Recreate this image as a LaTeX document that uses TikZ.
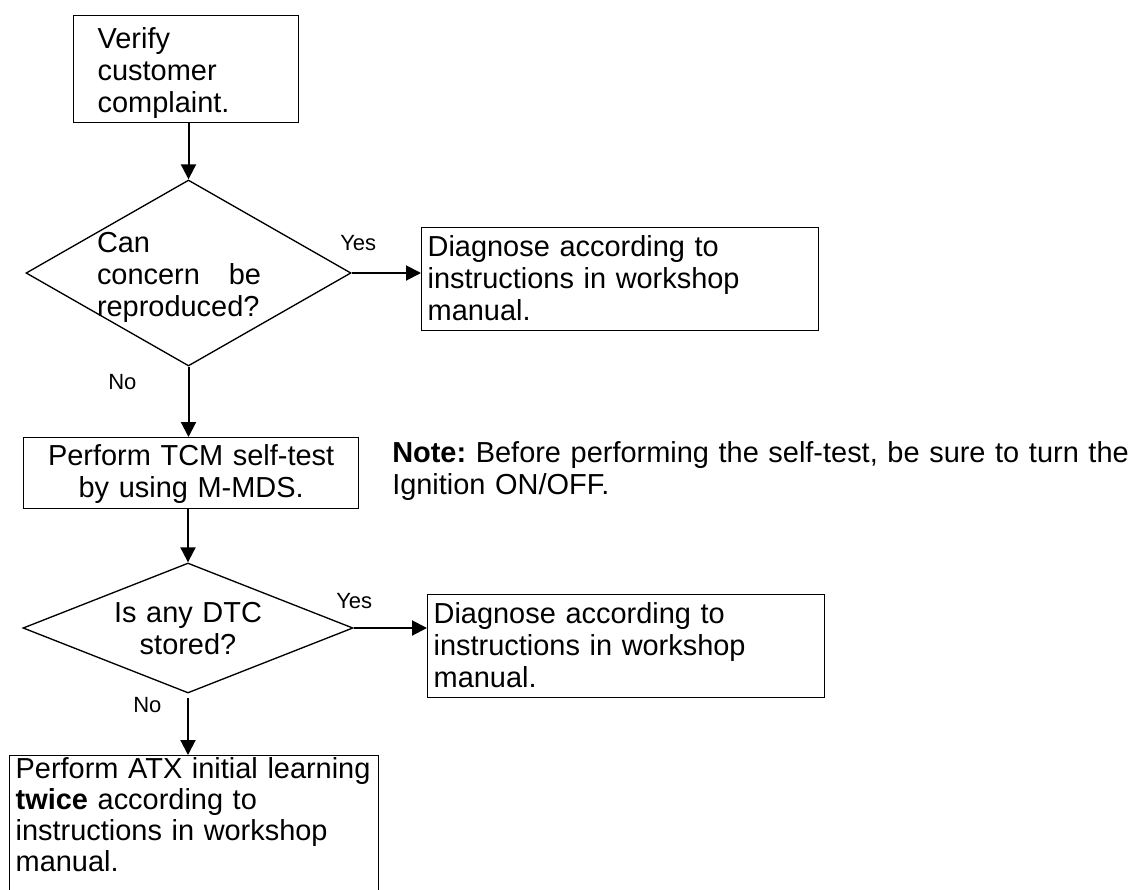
\documentclass[tikz,border=0pt]{standalone}
\usepackage{fontspec}
\setmainfont{Liberation Sans}
\usetikzlibrary{shapes.geometric,arrows.meta}
\begin{document}
\frenchspacing
\begin{tikzpicture}[x=0.75pt,y=-0.75pt,
  txt/.style={font=\fontsize{21.7pt}{24pt}\selectfont\frenchspacing},
  stepbox/.style={draw, line width=1pt, rectangle, anchor=north west, inner ysep=0pt, align=left, txt},
  dec/.style={draw, line width=1pt, diamond, inner sep=0pt, txt},
  lbl/.style={font=\fontsize{16.5pt}{19pt}\selectfont, anchor=base west, inner sep=0pt},
  arr/.style={line width=1.5pt, -{Triangle[length=11.25pt,width=11.25pt]}}]
\useasboundingbox (0,0) rectangle (1128,889);

\node[stepbox, inner xsep=18pt, text width=132.75pt, text height=24.75pt, text depth=55.5pt] (b1) at (73,15) {Verify\\customer\\complaint.};

\node[dec, minimum width=243.75pt, minimum height=139.5pt, aspect=1.75, text width=137.25pt, align=left, text height=0pt, text depth=31.5pt] (d1) at (188.5,273) {Can\\\leavevmode\hbox to 123pt{concern\hfill be}\\reproduced?};

\node[stepbox, inner xsep=4.5pt, text width=288.75pt, text height=21.75pt, text depth=55.5pt] (b2) at (421,227) {Diagnose according to\\instructions in workshop\\manual.};

\node[stepbox, align=center, inner xsep=4.5pt, text width=242.25pt, text height=21pt, text depth=32.25pt] (tcm) at (23,437) {Perform TCM self-test\\by using M-MDS.};

\node[txt, anchor=base west, inner sep=0pt, align=left, text width=560pt] (note) at (392,462) {\textbf{Note:} Before performing the self-test, be sure to turn the\\Ignition ON/OFF.};

\node[dec, minimum width=247.5pt, minimum height=97.5pt, aspect=2.5, text width=150pt, align=center, text height=0pt, text depth=9pt] (d2) at (188,628) {Is any DTC\\stored?};

\node[stepbox, inner xsep=4.5pt, text width=288.75pt, text height=21.75pt, text depth=55.5pt] (b3) at (427,594) {Diagnose according to\\instructions in workshop\\manual.};

\node[stepbox, inner xsep=4.5pt, text width=267.75pt, text height=17.25pt, text depth=93pt, font=\fontsize{21.7pt}{23.25pt}\selectfont\frenchspacing] (b4) at (9,755) {\mbox{Perform ATX initial learning}\\\textbf{twice} according to\\instructions in workshop\\manual.};

\node[lbl] (y1) at (340,250) {Yes};
\node[lbl] (n1) at (108,389) {No};
\node[lbl] (y2) at (336,608) {Yes};
\node[lbl] (n2) at (133,712) {No};

\draw[arr] (d1.north |- b1.south) -- (d1.north);
\draw[arr] (d1.east) -- (b2.west |- d1.east);
\draw[arr] (d1.south) -- (d1.south |- tcm.north);
\draw[arr] (d2.north |- tcm.south) -- (d2.north);
\draw[arr] (d2.east) -- (b3.west |- d2.east);
\draw[arr] ([yshift=-3pt]d2.south) -- (d2.south |- b4.north);
\end{tikzpicture}
\end{document}
